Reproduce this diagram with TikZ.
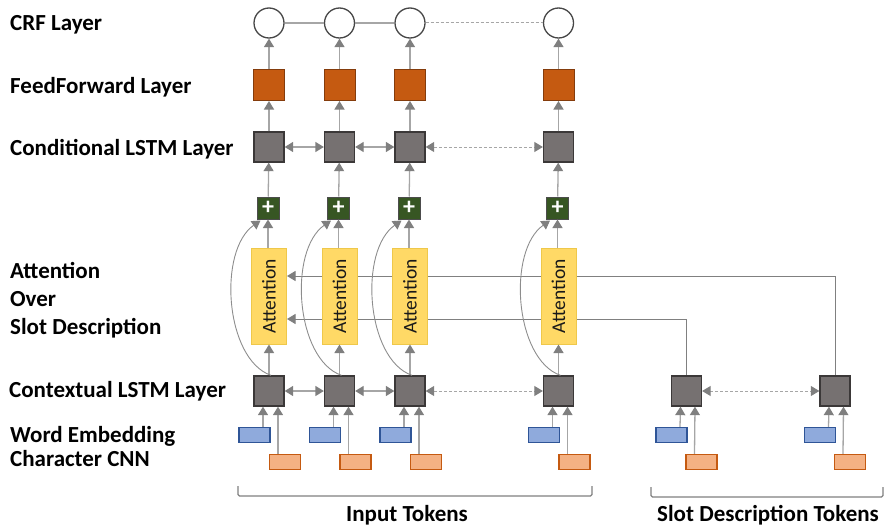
\documentclass[tikz,border=0pt]{standalone}
\usepackage{fontspec}
\setmainfont{Carlito}
\usetikzlibrary{arrows.meta,backgrounds}

\definecolor{lstmgray}{HTML}{767171}
\definecolor{lstmedge}{HTML}{3B3838}
\definecolor{fffill}{HTML}{C55A11}
\definecolor{ffedge}{HTML}{843C0C}
\definecolor{addfill}{HTML}{375623}
\definecolor{attfill}{HTML}{FFD966}
\definecolor{attedge}{HTML}{EFC84A}
\definecolor{embfill}{HTML}{8FAADC}
\definecolor{embedge}{HTML}{2F5597}
\definecolor{chrfill}{HTML}{F4B183}
\definecolor{chredge}{HTML}{C55A11}
\definecolor{wire}{HTML}{A6A6A6}
\definecolor{tipgray}{HTML}{7F7F7F}
\definecolor{attwire}{HTML}{808080}

\tikzset{
  crf/.style={circle,draw=black!72,fill=white,line width=1.3pt,minimum size=30pt,inner sep=0pt},
  lstm/.style={draw=lstmedge,fill=lstmgray,line width=1.3pt,minimum size=30pt,inner sep=0pt},
  ffbox/.style={draw=ffedge,fill=fffill,line width=1pt,minimum size=31pt,inner sep=0pt},
  addbox/.style={draw=black!70,fill=addfill,line width=1pt,minimum size=22pt,inner sep=0pt,
    text=white,font=\fontsize{24}{24}\selectfont\bfseries},
  attbox/.style={draw=attedge,fill=attfill,line width=1pt,minimum width=35pt,minimum height=96pt,
    inner sep=0pt,text=black!90,font=\fontsize{19.5}{20}\selectfont},
  embbox/.style={draw=embedge,fill=embfill,line width=1.2pt,minimum width=31pt,minimum height=15pt,inner sep=0pt},
  chrbox/.style={draw=chredge,fill=chrfill,line width=1.2pt,minimum width=31pt,minimum height=15pt,inner sep=0pt},
  tip/.tip={Triangle[length=8.5pt,width=10pt,color=tipgray]},
  flow/.style={draw=wire,line width=1.3pt,-tip},
  biflow/.style={draw=wire,line width=1.3pt,tip-tip},
  skipped/.style={draw=wire,line width=1pt,dash pattern=on 3pt off 2pt},
  attflow/.style={draw=attwire,line width=1pt,-tip},
  bypass/.style={draw=attwire!90,line width=0.9pt,-tip},
  bracket/.style={draw=tipgray,line width=1.2pt,rounded corners=1.5pt},
  layer/.style={anchor=base west,inner sep=0pt,font=\fontsize{23}{24}\selectfont\bfseries},
  tokens/.style={anchor=base,inner sep=0pt,font=\fontsize{23}{24}\selectfont\bfseries},
}

\begin{document}
\begin{tikzpicture}[x=1pt,y=-1pt]
\useasboundingbox (0,0) rectangle (884,527);

% layer names on the left
\node[layer] (lcrf) at (10,31) {CRF Layer};
\node[layer] (lff) at (10,94) {FeedForward Layer};
\node[layer] (lcond) at (10,155) {Conditional LSTM Layer};
\node[layer] (latt1) at (10,278) {Attention};
\node[layer] (latt2) at (10,306) {Over};
\node[layer] (latt3) at (10,334) {Slot Description};
\node[layer] (lctx) at (9,397) {Contextual LSTM Layer};
\node[layer] (lemb) at (10,442) {Word Embedding};
\node[layer] (lchr) at (10,466) {Character CNN};

% slot description encoder (right)
\foreach \j/\x in {1/686.5,2/835}{
  \node[lstm] (sctx\j) at (\x,391) {};
  \node[embbox] (semb\j) at (\x-15,435) {};
  \node[chrbox] (schr\j) at (\x+15,462) {};
  \draw[flow] ([xshift=8.5pt]semb\j.north) -- ([xshift=-6pt]sctx\j.south);
  \draw[flow] ([xshift=-7pt]schr\j.north) -- ([xshift=8.5pt]sctx\j.south);
}
\draw[skipped,tip-tip] (sctx1) -- (sctx2);

% one column per input token
\foreach \i/\x in {1/269,2/339.5,3/410,4/558.5}{
  \node[crf] (crf\i) at (\x,23) {};
  \node[ffbox] (ff\i) at (\x,85) {};
  \node[lstm] (cond\i) at (\x,147) {};
  \node[addbox] (add\i) at (\x-1,208) {+};
  \node[attbox] (att\i) at (\x,296) {\rotatebox{90}{Attention}};
  \node[lstm] (ctx\i) at (\x,391) {};
  \node[embbox] (emb\i) at (\x-14.5,435) {};
  \node[chrbox] (chr\i) at (\x+16,462) {};
  % vertical flow
  \draw[flow] (ff\i) -- (crf\i);
  \draw[flow] (cond\i) -- (ff\i);
  \draw[flow] (add\i) -- (cond\i);
  \draw[flow] (att\i.north -| add\i) -- (add\i);
  \draw[flow] (ctx\i) -- (att\i);
  \draw[flow] ([xshift=8.5pt]emb\i.north) -- ([xshift=-6pt]ctx\i.south);
  \draw[flow] ([xshift=-7pt]chr\i.north) -- ([xshift=9pt]ctx\i.south);
  % residual round the attention
  \draw[bypass] ([xshift=2pt]ctx\i.north) .. controls +(-46,-16) and +(-43,30) .. ([xshift=4pt,yshift=-1pt]add\i.south west);
}

% slot vectors fed to the attention, behind the boxes
\begin{scope}[on background layer]
  \draw[attflow] (sctx2.north) |- ([yshift=20pt]att1.east);
  \draw[attflow] (sctx1.north) |- ([yshift=-23pt]att1.east);
\end{scope}

% recurrences
\draw[draw=wire,line width=1.3pt] (crf1) -- (crf2);
\draw[draw=wire,line width=1.3pt] (crf2) -- (crf3);
\draw[skipped] (crf3) -- (crf4);
\draw[biflow] (cond1) -- (cond2);
\draw[biflow] (cond2) -- (cond3);
\draw[skipped,tip-tip] (cond3) -- (cond4);
\draw[biflow] (ctx1) -- (ctx2);
\draw[biflow] (ctx2) -- (ctx3);
\draw[skipped,tip-tip] (ctx3) -- (ctx4);

% token groups
\draw[bracket] (238,486) -- (238,496) -- (592,496) -- (592,486);
\draw[bracket] (651,487) -- (651,497) -- (883,497) -- (883,487);
\node[tokens] (tin) at (407,521) {Input Tokens};
\node[tokens] (tslot) at (768,521) {Slot Description Tokens};
\end{tikzpicture}
\end{document}
